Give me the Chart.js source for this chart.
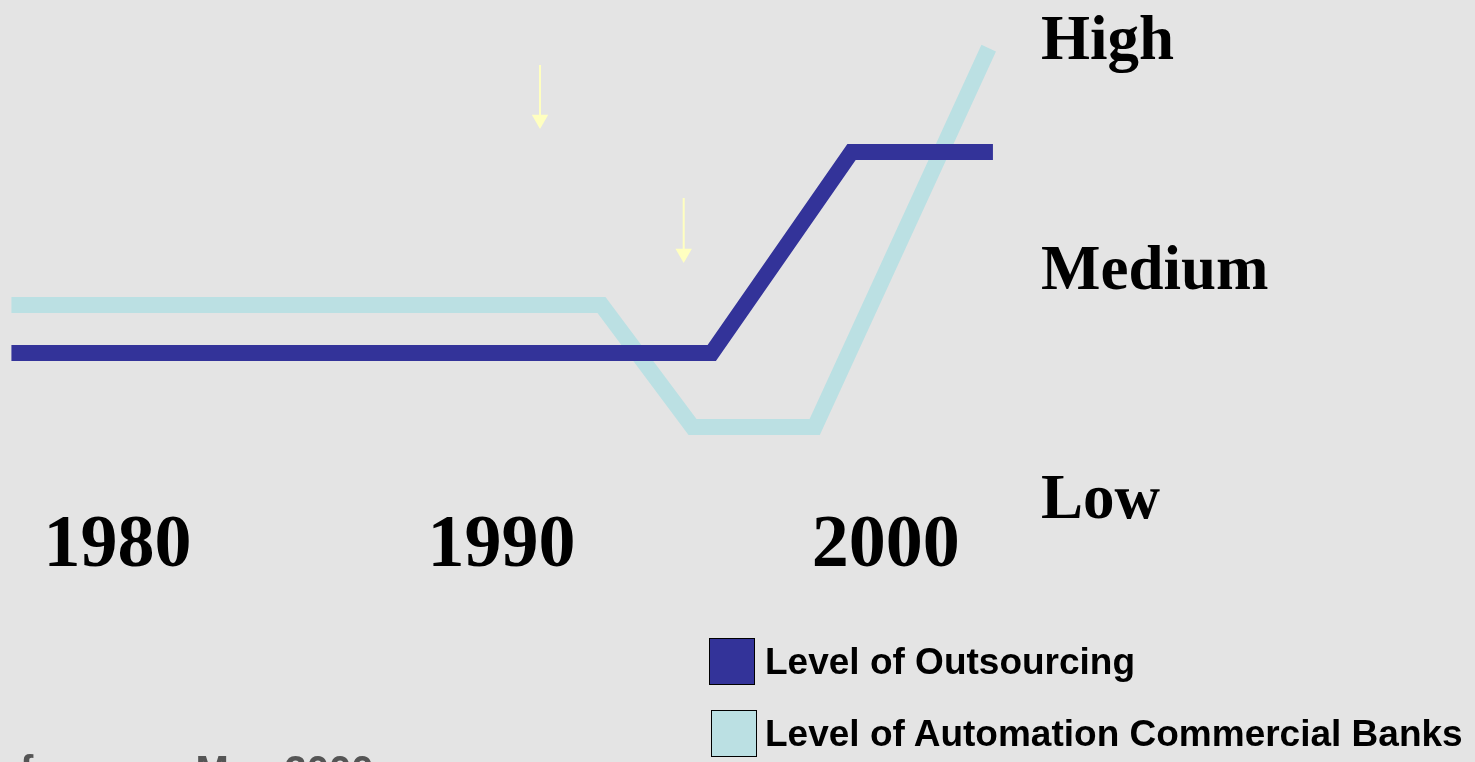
<!DOCTYPE html>
<html>
<head>
<meta charset="utf-8">
<script src="https://cdn.jsdelivr.net/npm/chart.js@4.4.1/dist/chart.umd.min.js"></script>
<style>
  html, body { margin: 0; padding: 0; background: #E4E4E4; width: 1475px; height: 762px; overflow: hidden; }
  #wrap { position: relative; width: 1475px; height: 762px; }
  #c { position: absolute; left: 0; top: 0; }
  .leg { position: absolute; display: flex; align-items: center; height: 48px;
         font-family: "Liberation Sans", Arial, sans-serif; font-weight: bold; font-size: 37px; line-height: 1; color: #000; white-space: nowrap; }
  .leg .box { width: 44px; height: 45px; border: 1.5px solid #000; }
  #foot { position: absolute; left: 20px; top: 750px; font-family: "Liberation Sans", Arial, sans-serif;
          font-weight: bold; font-size: 40px; line-height: 1; color: #555; white-space: nowrap; }
</style>
</head>
<body>
<div id="wrap">
  <canvas id="c" width="1475" height="762"></canvas>
  <div id="legend"></div>
  <div id="foot">from our May 2000 survey</div>
</div>
<script>
// ---- data ----
const years = [1980, 1990, 2000];
const levelValues = [0, 1, 2];
const levelLabels = ['Low', 'Medium', 'High'];

const seriesNames = ['Level of Outsourcing', 'Level of Automation Commercial Banks'];

const outsourcingYears = [1977.24, 1995.47, 1999.11, 2002.79];
const outsourcingLevel = [0.627, 0.627, 1.503, 1.503];

const automationYears = [1977.24, 1992.60, 1994.97, 1998.15, 2002.68];
const automationLevel = [0.837, 0.837, 0.305, 0.305, 1.956];

const arrow1Years = [1991.0, 1991.0];
const arrow1Level = [1.882, 1.645];
const arrow2Years = [1994.74, 1994.74];
const arrow2Level = [1.303, 1.061];

// ---- styles ----
const darkBlue = '#333399';
const lightCyan = '#BBE0E3';
const arrowYellow = '#FFFFC0';
const serif = '"Liberation Serif", "Times New Roman", serif';

const pts = (xs, ys) => xs.map((x, i) => ({ x: x, y: ys[i] }));

const lineStyle = (color) => ({
  borderColor: color, backgroundColor: color, borderWidth: 16,
  pointRadius: 0, tension: 0, fill: false,
  borderJoinStyle: 'miter', borderCapStyle: 'butt'
});
const arrowStyle = {
  borderColor: arrowYellow, borderWidth: 2, showLine: true, fill: false,
  pointRadius: [0, 9.5], pointStyle: 'triangle', rotation: 180,
  pointBackgroundColor: arrowYellow, pointBorderColor: arrowYellow, pointBorderWidth: 0,
  inLegend: false
};

const datasets = [
  Object.assign({ label: seriesNames[0], data: pts(outsourcingYears, outsourcingLevel), inLegend: true }, lineStyle(darkBlue)),
  Object.assign({ label: seriesNames[1], data: pts(automationYears, automationLevel), inLegend: true }, lineStyle(lightCyan)),
  Object.assign({ label: 'arrow1', data: pts(arrow1Years, arrow1Level) }, arrowStyle),
  Object.assign({ label: 'arrow2', data: pts(arrow2Years, arrow2Level) }, arrowStyle)
];

const noPad = (s) => { s.paddingLeft = 0; s.paddingRight = 0; s.paddingTop = 0; s.paddingBottom = 0; };

const chart = new Chart(document.getElementById('c'), {
  type: 'line',
  data: { datasets: datasets },
  options: {
    responsive: false,
    animation: false,
    events: [],
    layout: { padding: { top: 15, left: 3, right: 0, bottom: 0 } },
    plugins: { legend: { display: false }, tooltip: { enabled: false } },
    scales: {
      x: {
        type: 'linear', position: 'bottom', min: 1977.19, max: 2003,
        grid: { display: false, drawTicks: false }, border: { display: false },
        afterBuildTicks: (s) => { s.ticks = years.map(v => ({ value: v })); },
        afterFit: (s) => { s.height = 265; noPad(s); },
        ticks: {
          autoSkip: false, maxRotation: 0, padding: 13, color: '#000',
          font: { family: serif, size: 74, weight: 'bold', lineHeight: 1 },
          callback: (v) => String(v)
        }
      },
      y: {
        type: 'linear', position: 'right', min: 0, max: 2.1,
        grid: { display: false, drawTicks: false }, border: { display: false },
        afterBuildTicks: (s) => { s.ticks = levelValues.map(v => ({ value: v })); },
        afterFit: (s) => { s.width = 474; noPad(s); },
        ticks: {
          padding: 40, color: '#000', labelOffset: 5,
          font: { family: serif, size: 63, weight: 'bold', lineHeight: 1 },
          callback: (v) => { const i = levelValues.indexOf(v); return i >= 0 ? levelLabels[i] : ''; }
        }
      }
    }
  }
});

// ---- HTML legend built from the chart datasets ----
const legendPos = [ { left: 709, top: 637, gap: 10 }, { left: 711, top: 709, gap: 8 } ];
const legendEl = document.getElementById('legend');
chart.data.datasets.filter(d => d.inLegend).forEach((d, i) => {
  const row = document.createElement('div');
  row.className = 'leg';
  row.style.left = legendPos[i].left + 'px';
  row.style.top = legendPos[i].top + 'px';
  const box = document.createElement('span');
  box.className = 'box';
  box.style.background = d.borderColor;
  box.style.marginRight = legendPos[i].gap + 'px';
  const txt = document.createElement('span');
  txt.textContent = d.label;
  row.appendChild(box);
  row.appendChild(txt);
  legendEl.appendChild(row);
});
</script>
</body>
</html>
